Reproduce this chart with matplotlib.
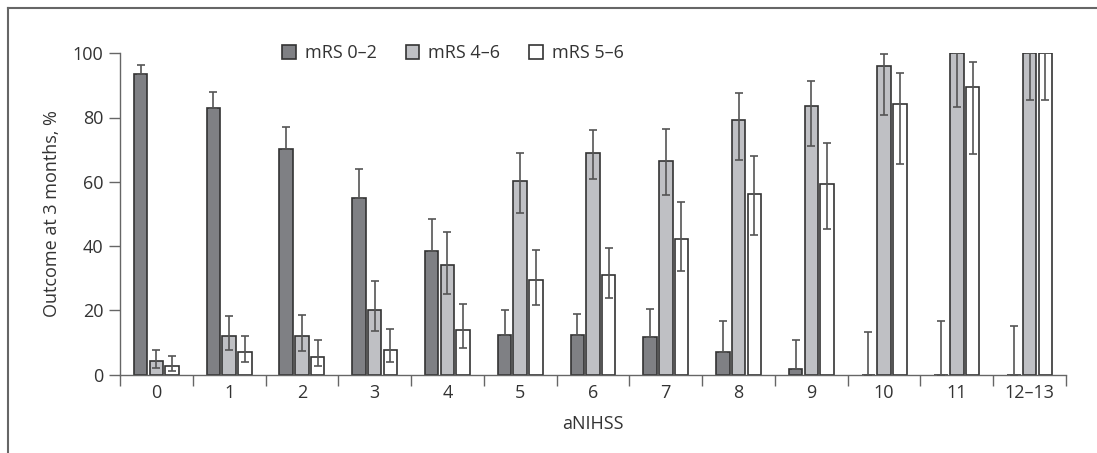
import matplotlib
matplotlib.use("Agg")
import matplotlib.pyplot as plt
import numpy as np
from matplotlib.lines import Line2D

plt.rcParams['font.family'] = ['Open Sans', 'DejaVu Sans']

categories = ['0', '1', '2', '3', '4', '5', '6', '7', '8', '9', '10', '11', '12–13']
series_names = ['mRS 0–2', 'mRS 4–6', 'mRS 5–6']

mrs02 = [93.5, 83.0, 70.2, 55.0, 38.4, 12.4, 12.4, 11.6, 7.0, 1.9, 0, 0, 0]
mrs02_hi = [96.3, 88.0, 77.2, 64.0, 48.5, 20.1, 18.9, 20.4, 16.7, 10.8, 13.2, 16.7, 15.1]

mrs46 = [4.2, 12.1, 12.1, 20.1, 34.1, 60.1, 68.9, 66.6, 79.2, 83.7, 96.1, 100, 100]
mrs46_lo = [2.0, 7.7, 7.3, 13.5, 25.2, 50.4, 60.9, 55.9, 66.7, 71.0, 80.7, 83.4, 85.3]
mrs46_hi = [7.7, 18.3, 18.7, 29.1, 44.3, 69.0, 76.1, 76.5, 87.7, 91.5, 99.7, 100, 100]

mrs56 = [2.8, 7.1, 5.5, 7.7, 13.9, 29.4, 31.0, 42.2, 56.3, 59.2, 84.1, 89.6, 100]
mrs56_lo = [1.1, 3.9, 2.8, 3.9, 8.2, 21.8, 24.0, 32.2, 43.3, 45.4, 65.5, 68.6, 85.3]
mrs56_hi = [5.8, 12.0, 10.8, 14.3, 22.1, 38.8, 39.5, 53.6, 68.1, 72.1, 93.8, 97.2, 100]

fig = plt.figure(figsize=(10.97, 4.53), dpi=100)
ax = fig.add_axes([120/1097, 78.3/453, 946/1097, 321.5/453])

x = np.arange(len(categories))
off = 0.216
w = 0.185
edge = '#333333'
ecol = '#555555'

vals = [mrs02, mrs46, mrs56]
fills = ['#7f8084', '#bfc0c4', '#ffffff']
errs = [
    [np.zeros(len(mrs02)), np.array(mrs02_hi) - np.array(mrs02)],
    [np.array(mrs46) - np.array(mrs46_lo), np.array(mrs46_hi) - np.array(mrs46)],
    [np.array(mrs56) - np.array(mrs56_lo), np.array(mrs56_hi) - np.array(mrs56)],
]
for k in range(3):
    xs = x + (k - 1) * off
    h = np.array(vals[k])
    ax.bar(xs, h, width=w, color=fills[k], edgecolor=edge, linewidth=1.2,
           label=series_names[k], zorder=2)
    ax.errorbar(xs, h, yerr=errs[k], fmt='none', ecolor=ecol, elinewidth=1.2,
                capsize=2.6, capthick=1.2, zorder=3)

ax.set_xlim(-0.5, len(categories) - 0.5)
ax.set_ylim(0, 100)
ax.set_yticks([0, 20, 40, 60, 80, 100])
ax.set_xticks(np.arange(-0.5, len(categories), 1.0))
ax.set_xticklabels([])
ax.set_xticks(x, minor=True)
ax.set_xticklabels(categories, minor=True)
ax.tick_params(axis='x', which='major', length=8, width=1.0, color='#666666', direction='out')
ax.tick_params(axis='x', which='minor', length=0, labelsize=13, colors='#333333', pad=7)
ax.tick_params(axis='y', length=8, width=1.0, color='#666666', labelsize=13,
               labelcolor='#333333', pad=4)
for s in ['top', 'right']:
    ax.spines[s].set_visible(False)
for s in ['left', 'bottom']:
    ax.spines[s].set_color('#666666')
    ax.spines[s].set_linewidth(1.0)

ax.set_xlabel('aNIHSS', fontsize=13, color='#333333', labelpad=9)
ax.set_ylabel('Outcome at 3 months, %', fontsize=13, color='#333333', labelpad=8)

leg = ax.legend(loc='center', bbox_to_anchor=(0.352, 1.0), ncol=3, frameon=False,
                fontsize=13, handlelength=0.75, handleheight=0.75, handletextpad=0.5,
                columnspacing=1.6, labelcolor='#333333')

fig.add_artist(Line2D([8/1097, 1.0], [1 - 8/453, 1 - 8/453], transform=fig.transFigure,
                      color='#666666', linewidth=1.5))
fig.add_artist(Line2D([8/1097, 8/1097], [0, 1 - 8/453], transform=fig.transFigure,
                      color='#666666', linewidth=1.5))

fig.savefig('out.png', dpi=100)
